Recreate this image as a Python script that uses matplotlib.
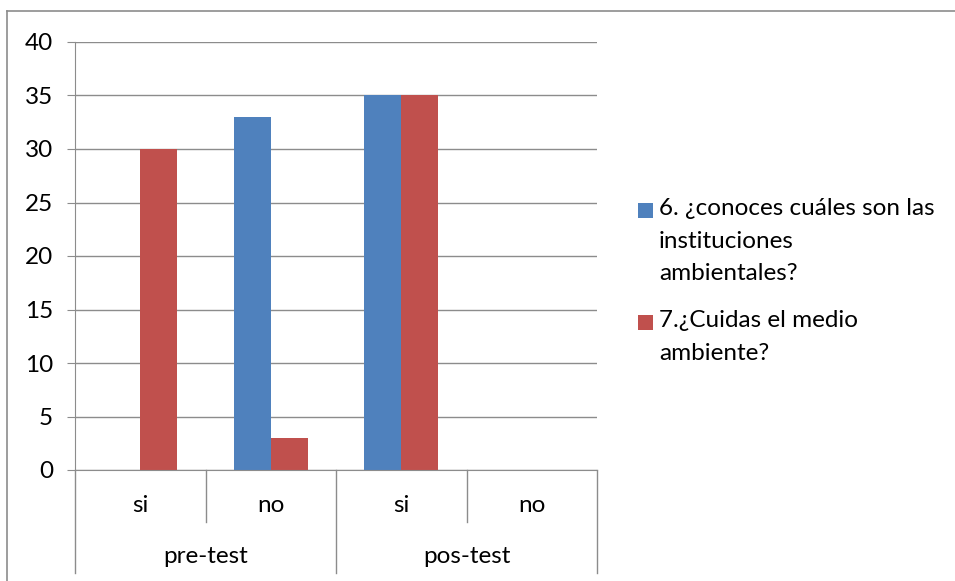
import matplotlib
matplotlib.use("Agg")
import matplotlib.pyplot as plt
from matplotlib.lines import Line2D
from matplotlib.patches import Rectangle

plt.rcParams['font.family'] = ['Lato', 'DejaVu Sans']

# data
categories = ['si', 'no', 'si', 'no']
groups = ['pre-test', 'pos-test']
series_names = ['6. ¿conoces cuáles son las\ninstituciones\nambientales?',
                '7.¿Cuidas el medio\nambiente?']
q6_values = [0, 33, 35, 0]
q7_values = [30, 3, 35, 0]
colors = ['#4F81BD', '#C0504D']

W, H = 955, 581
FS = 17.5
fig = plt.figure(figsize=(W / 100, H / 100), dpi=100)
ax = fig.add_axes([75 / W, 1 - 470 / H, (597 - 75) / W, (470 - 42) / H])

x = list(range(len(categories)))
bw = 0.284
ax.bar([i - bw / 2 for i in x], q6_values, bw, color=colors[0])
ax.bar([i + bw / 2 for i in x], q7_values, bw, color=colors[1])

ax.set_xlim(-0.5, len(categories) - 0.5)
ax.set_ylim(0, 40)
ax.set_yticks(range(0, 41, 5))
ax.yaxis.grid(True, color='#8c8c8c', linewidth=1)
ax.set_axisbelow(True)
ax.tick_params(axis='y', length=5.8, color='#8c8c8c', labelsize=FS, pad=10)
ax.set_xticks([])
for s in ['top', 'right']:
    ax.spines[s].set_visible(False)
for s in ['left', 'bottom']:
    ax.spines[s].set_color('#8c8c8c')

# multi-level category axis
trans = ax.get_xaxis_transform()
inner_end, outer_end = -0.1215, -0.2407
for i in range(len(categories) + 1):
    pos = i - 0.5
    end = outer_end if i % 2 == 0 else inner_end
    ax.add_line(Line2D([pos, pos], [0, end], transform=trans, color='#8c8c8c',
                       linewidth=1, clip_on=False))
for i, c in enumerate(categories):
    ax.text(i, -0.084, c, transform=trans, ha='center', va='center', fontsize=FS)
for j, g in enumerate(groups):
    ax.text(2 * j + 0.5, -0.203, g, transform=trans, ha='center', va='center', fontsize=FS)

# legend drawn by hand so the key sits by the first line of each entry
legend_tops = [1 - 198 / H, 1 - 310 / H]
for name, col, top in zip(series_names, colors, legend_tops):
    fig.add_artist(Rectangle((638 / W, top - 20 / H), 15 / W, 15 / H,
                             facecolor=col, edgecolor='none', transform=fig.transFigure))
    fig.text(659 / W, top, name, ha='left', va='top', fontsize=FS, linespacing=1.68)

# chart border
fig.add_artist(Line2D([7 / W, 7 / W], [0, 1 - 11 / H], color='#8c8c8c', linewidth=1.2))
fig.add_artist(Line2D([7 / W, 1], [1 - 11 / H, 1 - 11 / H], color='#8c8c8c', linewidth=1.2))

fig.savefig('out.png', dpi=100)
